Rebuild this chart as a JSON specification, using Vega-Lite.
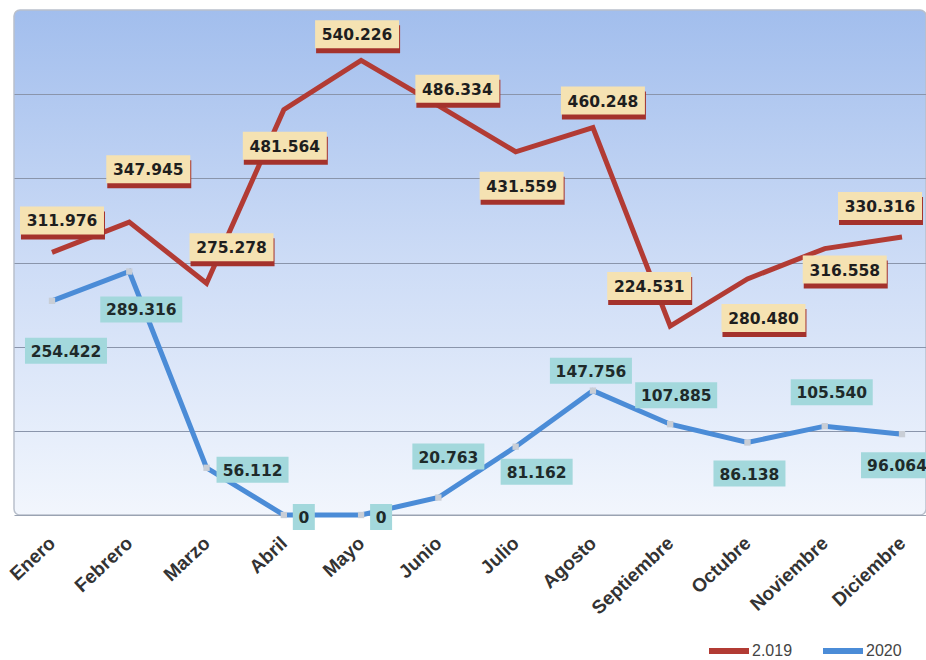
{
  "$schema": "https://vega.github.io/schema/vega-lite/v6.json",
  "width": 912,
  "height": 505,
  "autosize": {"type": "none"},
  "padding": {"left": 14, "top": 10, "right": 0, "bottom": 145},
  "background": "white",
  "config": {
    "locale": {"number": {"decimal": ",", "thousands": ".", "grouping": [3], "currency": ["", " €"]}},
    "view": {
      "fill": {"gradient": "linear", "x1": 0, "y1": 0, "x2": 0, "y2": 1,
        "stops": [{"offset": 0, "color": "#a2beed"}, {"offset": 0.5, "color": "#cddcf6"}, {"offset": 1, "color": "#f2f6fd"}]},
      "stroke": "#b9c0cc",
      "strokeWidth": 1.5,
      "cornerRadius": 6
    },
    "font": "DejaVu Sans"
  },
  "data": {"values": [
    {"mes": "Enero", "serie": "2.019", "valor": 311976},
    {"mes": "Febrero", "serie": "2.019", "valor": 347945},
    {"mes": "Marzo", "serie": "2.019", "valor": 275278},
    {"mes": "Abril", "serie": "2.019", "valor": 481564},
    {"mes": "Mayo", "serie": "2.019", "valor": 540226},
    {"mes": "Junio", "serie": "2.019", "valor": 486334},
    {"mes": "Julio", "serie": "2.019", "valor": 431559},
    {"mes": "Agosto", "serie": "2.019", "valor": 460248},
    {"mes": "Septiembre", "serie": "2.019", "valor": 224531},
    {"mes": "Octubre", "serie": "2.019", "valor": 280480},
    {"mes": "Noviembre", "serie": "2.019", "valor": 316558},
    {"mes": "Diciembre", "serie": "2.019", "valor": 330316},
    {"mes": "Enero", "serie": "2020", "valor": 254422},
    {"mes": "Febrero", "serie": "2020", "valor": 289316},
    {"mes": "Marzo", "serie": "2020", "valor": 56112},
    {"mes": "Abril", "serie": "2020", "valor": 0},
    {"mes": "Mayo", "serie": "2020", "valor": 0},
    {"mes": "Junio", "serie": "2020", "valor": 20763},
    {"mes": "Julio", "serie": "2020", "valor": 81162},
    {"mes": "Agosto", "serie": "2020", "valor": 147756},
    {"mes": "Septiembre", "serie": "2020", "valor": 107885},
    {"mes": "Octubre", "serie": "2020", "valor": 86138},
    {"mes": "Noviembre", "serie": "2020", "valor": 105540},
    {"mes": "Diciembre", "serie": "2020", "valor": 96064}
  ]},
  "encoding": {
    "x": {
      "field": "mes", "type": "nominal",
      "sort": ["Enero", "Febrero", "Marzo", "Abril", "Mayo", "Junio", "Julio", "Agosto", "Septiembre", "Octubre", "Noviembre", "Diciembre"],
      "scale": {"type": "point", "padding": 0.401, "align": 0.613},
      "axis": {"title": null, "labelAngle": -43, "labelAlign": "right", "labelBaseline": "middle", "labelPadding": 25,
        "labelFont": "Liberation Sans", "labelFontSize": 19, "labelFontWeight": "bold", "labelColor": "#333333",
        "ticks": false, "domain": true, "domainColor": "#9aa3b2", "grid": false}
    },
    "y": {
      "field": "valor", "type": "quantitative",
      "scale": {"domain": [0, 600000], "nice": false},
      "axis": {"title": null, "labels": false, "ticks": false, "domain": false, "grid": true, "gridColor": "#8a95ab", "gridWidth": 1,
        "values": [100000, 200000, 300000, 400000, 500000]}
    }
  },
  "layer": [
    {
      "mark": {"type": "line", "strokeWidth": 5, "strokeJoin": "miter"},
      "encoding": {
        "color": {"field": "serie", "type": "nominal",
          "scale": {"domain": ["2.019", "2020"], "range": ["#b23b34", "#4b8cd7"]},
          "legend": {"title": null, "orient": "none", "legendX": 692, "legendY": 618, "direction": "horizontal",
            "symbolType": "stroke", "symbolSize": 1600, "symbolStrokeWidth": 6, "labelFont": "Liberation Sans",
            "labelFontSize": 16, "labelColor": "#444444", "labelOffset": 0, "columnPadding": 18, "padding": 0}}
      }
    },
    {
      "transform": [{"filter": "datum.serie == '2020'"}],
      "mark": {"type": "square", "size": 40, "color": "#c9ced6", "opacity": 1, "filled": true}
    },
    {
      "transform": [{"filter": "datum.serie == '2.019'"}],
      "mark": {"type": "point", "filled": true, "opacity": 1, "size": 4, "fill": "#a4322c", "strokeWidth": 0,
        "shape": "M-42,-14L42,-14L42,14L-42,14Z",
        "xOffset": {"expr": "1 + {'Enero':10,'Febrero':19,'Marzo':25,'Abril':1,'Mayo':-4,'Junio':19,'Julio':6,'Agosto':10,'Septiembre':-21,'Octubre':16,'Noviembre':20,'Diciembre':-22}[datum.mes]"},
        "yOffset": {"expr": "5 + {'Enero':-32,'Febrero':-53,'Marzo':-36,'Abril':36,'Mayo':-26,'Junio':-17,'Julio':34,'Agosto':-27,'Septiembre':-40,'Octubre':39,'Noviembre':21,'Diciembre':-31}[datum.mes]"}}
    },
    {
      "transform": [{"filter": "datum.serie == '2.019'"}],
      "mark": {"type": "point", "filled": true, "opacity": 1, "size": 4, "fill": "#f5e2b2", "strokeWidth": 0,
        "shape": "M-42,-14L42,-14L42,14L-42,14Z",
        "xOffset": {"expr": "{'Enero':10,'Febrero':19,'Marzo':25,'Abril':1,'Mayo':-4,'Junio':19,'Julio':6,'Agosto':10,'Septiembre':-21,'Octubre':16,'Noviembre':20,'Diciembre':-22}[datum.mes]"},
        "yOffset": {"expr": "{'Enero':-32,'Febrero':-53,'Marzo':-36,'Abril':36,'Mayo':-26,'Junio':-17,'Julio':34,'Agosto':-27,'Septiembre':-40,'Octubre':39,'Noviembre':21,'Diciembre':-31}[datum.mes]"}}
    },
    {
      "transform": [{"filter": "datum.serie == '2.019'"}],
      "mark": {"type": "text", "font": "DejaVu Sans", "fontSize": 15.5, "fontWeight": "bold", "color": "#1e1e1e", "align": "center", "baseline": "middle",
        "xOffset": {"expr": "{'Enero':10,'Febrero':19,'Marzo':25,'Abril':1,'Mayo':-4,'Junio':19,'Julio':6,'Agosto':10,'Septiembre':-21,'Octubre':16,'Noviembre':20,'Diciembre':-22}[datum.mes]"},
        "yOffset": {"expr": "1 + {'Enero':-32,'Febrero':-53,'Marzo':-36,'Abril':36,'Mayo':-26,'Junio':-17,'Julio':34,'Agosto':-27,'Septiembre':-40,'Octubre':39,'Noviembre':21,'Diciembre':-31}[datum.mes]"}},
      "encoding": {"text": {"field": "valor", "type": "quantitative", "format": ",d"}}
    },
    {
      "transform": [{"filter": "datum.serie == '2020'"}],
      "mark": {"type": "point", "filled": true, "opacity": 1, "size": 4, "fill": "#a3d8dc", "strokeWidth": 0,
        "shape": {"expr": "datum.valor >= 100000 ? 'M-41,-13L41,-13L41,13L-41,13Z' : datum.valor > 0 ? 'M-36,-13L36,-13L36,13L-36,13Z' : 'M-11,-13L11,-13L11,13L-11,13Z'"},
        "xOffset": {"expr": "{'Enero':14,'Febrero':12,'Marzo':46,'Abril':20,'Mayo':20,'Junio':10,'Julio':21,'Agosto':-2,'Septiembre':6,'Octubre':2,'Noviembre':7,'Diciembre':-5}[datum.mes]"},
        "yOffset": {"expr": "{'Enero':50,'Febrero':38,'Marzo':2,'Abril':2,'Mayo':2,'Junio':-41,'Julio':25,'Agosto':-20,'Septiembre':-29,'Octubre':31,'Noviembre':-34,'Diciembre':31}[datum.mes]"}}
    },
    {
      "transform": [{"filter": "datum.serie == '2020'"}],
      "mark": {"type": "text", "font": "DejaVu Sans", "fontSize": 15.5, "fontWeight": "bold", "color": "#1e2a2a", "align": "center", "baseline": "middle",
        "xOffset": {"expr": "{'Enero':14,'Febrero':12,'Marzo':46,'Abril':20,'Mayo':20,'Junio':10,'Julio':21,'Agosto':-2,'Septiembre':6,'Octubre':2,'Noviembre':7,'Diciembre':-5}[datum.mes]"},
        "yOffset": {"expr": "1 + {'Enero':50,'Febrero':38,'Marzo':2,'Abril':2,'Mayo':2,'Junio':-41,'Julio':25,'Agosto':-20,'Septiembre':-29,'Octubre':31,'Noviembre':-34,'Diciembre':31}[datum.mes]"}},
      "encoding": {"text": {"field": "valor", "type": "quantitative", "format": ",d"}}
    }
  ]
}
